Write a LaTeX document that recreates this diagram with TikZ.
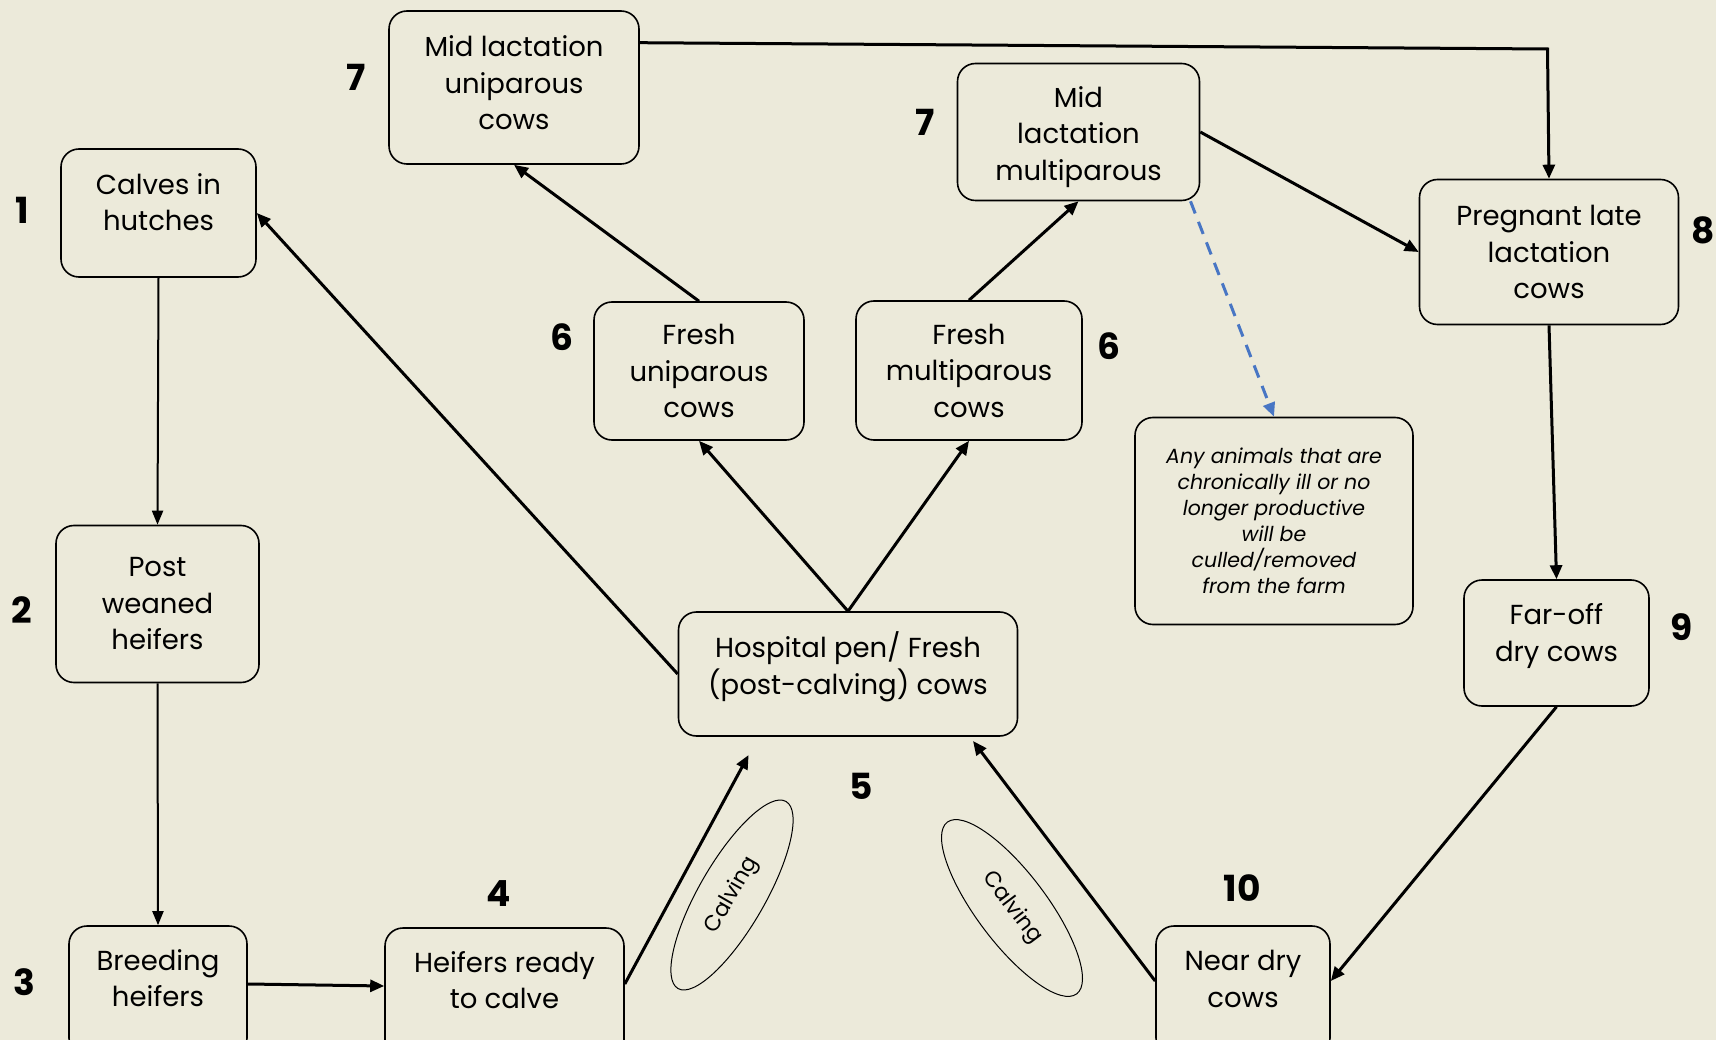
\documentclass[tikz,border=0pt]{standalone}
\usepackage{fontspec}
\setmainfont{Poppins}
\usetikzlibrary{arrows.meta,shapes.geometric}
\definecolor{bg}{RGB}{236,234,218}
\definecolor{dashblue}{RGB}{72,118,196}
\begin{document}
\begin{tikzpicture}[x=1pt,y=-1pt,
  box/.style={draw, line width=1.6pt, rounded corners=18pt, align=center, inner sep=0pt,
    font=\fontsize{27.5}{36.5}\selectfont},
  boxtext/.style={align=center, inner sep=0pt, font=\fontsize{27.5}{36.5}\selectfont},
  num/.style={font=\fontsize{36}{40}\selectfont\bfseries},
  arr/.style={line width=3pt, -{Triangle[length=14pt,width=12pt]}},
  arrthin/.style={line width=2pt, -{Triangle[length=14pt,width=11pt]}},
  calv/.style={draw, ellipse, line width=1pt, inner sep=0pt, font=\fontsize{22}{24}\selectfont}
]
\fill[bg] (0,0) rectangle (1716,1040);
\useasboundingbox (0,0) rectangle (1716,1040);
\clip (0,0) rectangle (1716,1040);

% boxes
\node[box, minimum width=250pt, minimum height=153pt] (mu) at (514,87.5) {};
\node[boxtext] (mutext) at (514,83) {Mid lactation\\uniparous\\cows};
\node[box, minimum width=195pt, minimum height=128pt] (calves) at (158.5,213) {};
\node[boxtext] (calvestext) at (158.5,202) {Calves in\\hutches};
\node[box, minimum width=242pt, minimum height=137pt] (mm) at (1078.5,132) {};
\node[boxtext] (mmtext) at (1078.5,137) {Mid\\lactation\\multiparous};
\node[box, minimum width=259pt, minimum height=145pt] (preg) at (1549,252) {Pregnant late\\lactation\\cows};
\node[box, minimum width=210pt, minimum height=138pt] (fu) at (699,371) {Fresh\\uniparous\\cows};
\node[box, minimum width=226pt, minimum height=139pt] (fm) at (969,370.5) {Fresh\\multiparous\\cows};
\node[box, minimum width=278pt, minimum height=207pt, font=\itshape\fontsize{20.5}{26}\selectfont] (cull) at (1274,521)
  {Any animals that are\\chronically ill or no\\longer productive\\will be\\culled/removed\\from the farm};
\node[box, minimum width=203pt, minimum height=157pt] (pw) at (157.5,604) {Post\\weaned\\heifers};
\node[box, minimum width=339pt, minimum height=124pt] (hosp) at (848,674) {};
\node[boxtext] (hosptext) at (848,667) {Hospital pen/ Fresh\\(post-calving) cows};
\node[box, minimum width=185pt, minimum height=126pt] (faroff) at (1556.5,643) {};
\node[boxtext] (farofftext) at (1556.5,636) {Far-off\\dry cows};

% bottom boxes (cut by the page edge)
\node[box, minimum width=178pt, minimum height=130pt] (bh) at (158,991) {};
\node[boxtext] (bhtext) at (158,978) {Breeding\\heifers};
\node[box, minimum width=239pt, minimum height=130pt] (hr) at (504.5,993) {};
\node[boxtext] (hrtext) at (504.5,980) {Heifers ready\\to calve};
\node[box, minimum width=174pt, minimum height=130pt] (nd) at (1243,991) {};
\node[boxtext] (ndtext) at (1243,979) {Near dry\\cows};

% numbers
\node[num] (n7a) at (356,77) {7};
\node[num] (n1) at (22,210) {1};
\node[num] (n7b) at (925,122) {7};
\node[num] (n8) at (1703,230) {8};
\node[num] (n6a) at (562,337) {6};
\node[num] (n6b) at (1109,346) {6};
\node[num] (n2) at (22,610) {2};
\node[num] (n9) at (1682,627) {9};
\node[num] (n5) at (861,786) {5};
\node[num] (n4) at (499,894) {4};
\node[num] (n10) at (1242,888) {10};
\node[num] (n3) at (24,982) {3};

% calving ellipses
\node[calv, minimum width=216pt, minimum height=66pt, rotate=60] (ell1) at (732,895) {Calving};
\node[calv, minimum width=215pt, minimum height=70pt, rotate=-53] (ell2) at (1012,908) {Calving};

% free ends
\coordinate (c1) at (748.6,755);
\coordinate (c2) at (973,741);
\coordinate (t1) at (1547.5,49);

% connectors
\draw[arrthin] (calves.south) -- (pw.north);
\draw[arrthin] (pw.south) -- (bh.north);
\draw[arr] ([yshift=7pt]bh.east) -- ([yshift=7pt]hr.west);
\draw[arr] ([yshift=9pt]hr.east) -- (c1);
\draw[arr] ([yshift=10pt]nd.west) -- (c2);
\draw[arr] (faroff.south) -- ([yshift=10pt]nd.east);
\draw[arr] (preg.south) -- (faroff.north);
\draw[arr] ([yshift=44.8pt]mu.east) -- (t1) -- (preg.north);
\draw[arr] (mm.east) -- (preg.west);
\draw[arr] (fm.north) -- (mm.south);
\draw[arr] (fu.north) -- (mu.south);
\draw[arr] (hosp.north) -- (fu.south);
\draw[arr] (hosp.north) -- (fm.south);
\draw[arr] (hosp.west) -- (calves.east);
\draw[dashblue, line width=3pt, dash pattern=on 13pt off 9pt, -{Triangle[length=14pt,width=12pt]}]
  ([xshift=112pt]mm.south) -- (cull.north);
\end{tikzpicture}
\end{document}
